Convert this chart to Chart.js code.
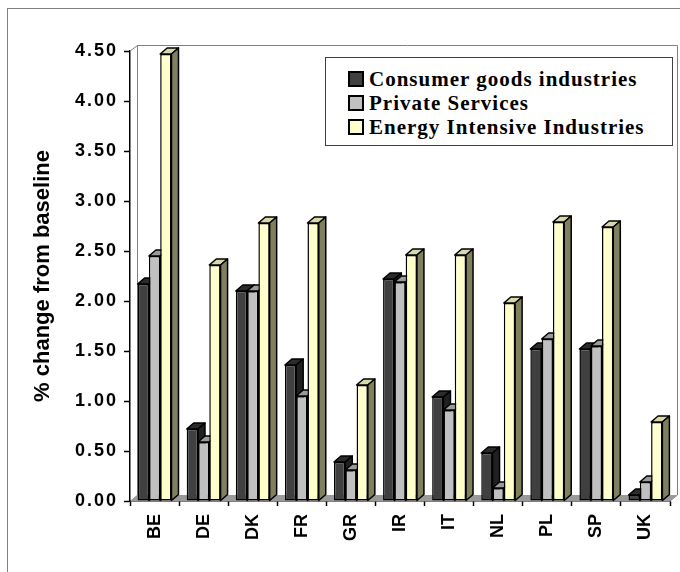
<!DOCTYPE html>
<html>
<head>
<meta charset="utf-8">
<script src="https://cdn.jsdelivr.net/npm/chart.js@4/dist/chart.umd.min.js"></script>
<style>
  html, body { margin: 0; padding: 0; background: #fff; }
  #wrap { position: relative; width: 680px; height: 572px; }
  #legend {
    position: absolute; left: 325px; top: 57px; width: 348px; height: 89px;
    border: 1px solid #404040; background: #fff; box-sizing: border-box;
    padding: 9px 0 0 22px;
    font: bold 21px 'Liberation Serif', 'Times New Roman', serif; letter-spacing: 1px;
  }
  #legend div { height: 24px; line-height: 24px; white-space: nowrap; }
  #legend span.sw {
    display: inline-block; width: 12px; height: 12px; border: 2px solid #000;
    margin-right: 5px; vertical-align: -1px;
  }
</style>
</head>
<body>
<div id="wrap">
  <canvas id="chart" width="680" height="572"></canvas>
  <div id="legend"></div>
</div>
<script>
var categories = ['BE', 'DE', 'DK', 'FR', 'GR', 'IR', 'IT', 'NL', 'PL', 'SP', 'UK'];
var seriesNames = ['Consumer goods industries', 'Private Services', 'Energy Intensive Industries'];
var consumerGoods   = [2.17, 0.72, 2.10, 1.36, 0.39, 2.22, 1.04, 0.48, 1.52, 1.52, 0.06];
var privateServices = [2.45, 0.59, 2.10, 1.05, 0.31, 2.19, 0.91, 0.13, 1.62, 1.55, 0.19];
var energyIntensive = [4.47, 2.36, 2.78, 2.78, 1.16, 2.46, 2.46, 1.98, 2.79, 2.74, 0.79];

var frontColors = ['#404040', '#c0c0c0', '#ffffcc'];
var topColors   = ['#2b2b2b', '#9a9a9a', '#d8d8a8'];
var sideColors  = ['#202020', '#8a8a8a', '#808060'];

// depth of the fake 3d box, in pixels
var DX = 7, DY = 6;

var box3d = {
    id: 'box3d',
    beforeDraw: function(chart) {
        var ctx = chart.ctx;
        ctx.save();
        ctx.strokeStyle = '#808080';
        ctx.lineWidth = 1;
        ctx.strokeRect(7.5, 8.5, 700, 600);
        ctx.restore();
    },
    afterLayout: function(chart) {
        // spaced-out digits on the value axis
        var y = chart.scales.y;
        if (!y._spaced) {
            var orig = y.drawLabels;
            y.drawLabels = function(area) {
                chart.ctx.save();
                chart.ctx.letterSpacing = '2px';
                orig.call(this, area);
                chart.ctx.restore();
            };
            y._spaced = true;
        }
    },
    beforeDatasetsDraw: function(chart) {
        var ctx = chart.ctx;
        var a = chart.chartArea;
        ctx.save();

        // floor
        ctx.fillStyle = '#9a9a9a';
        ctx.beginPath();
        ctx.moveTo(a.left, a.bottom);
        ctx.lineTo(a.left + DX, a.bottom - DY);
        ctx.lineTo(a.right + DX, a.bottom - DY);
        ctx.lineTo(a.right, a.bottom);
        ctx.closePath();
        ctx.fill();

        // back wall edges
        ctx.strokeStyle = '#808080';
        ctx.lineWidth = 1;
        ctx.beginPath();
        ctx.moveTo(a.left, a.top);
        ctx.lineTo(a.left + DX + 0.5, a.top - DY + 0.5);
        ctx.lineTo(a.right + DX + 0.5, a.top - DY + 0.5);
        ctx.lineTo(a.right + DX + 0.5, a.bottom - DY);
        ctx.lineTo(a.right, a.bottom);
        ctx.moveTo(a.left + DX + 0.5, a.top - DY + 0.5);
        ctx.lineTo(a.left + DX + 0.5, a.bottom - DY);
        ctx.stroke();

        // top and side faces, left series first so the next front covers them
        ctx.strokeStyle = '#000';
        ctx.lineWidth = 1.5;
        ctx.lineJoin = 'round';
        chart.data.datasets.forEach(function(ds, i) {
            chart.getDatasetMeta(i).data.forEach(function(bar) {
                var p = bar.getProps(['x', 'y', 'base', 'width'], true);
                var l = p.x - p.width / 2, r = p.x + p.width / 2;
                ctx.fillStyle = topColors[i];
                ctx.beginPath();
                ctx.moveTo(l, p.y);
                ctx.lineTo(l + DX, p.y - DY);
                ctx.lineTo(r + DX, p.y - DY);
                ctx.lineTo(r, p.y);
                ctx.closePath();
                ctx.fill();
                ctx.stroke();

                ctx.fillStyle = sideColors[i];
                ctx.beginPath();
                ctx.moveTo(r, p.y);
                ctx.lineTo(r + DX, p.y - DY);
                ctx.lineTo(r + DX, p.base - DY);
                ctx.lineTo(r, p.base);
                ctx.closePath();
                ctx.fill();
                ctx.stroke();
            });
        });
        ctx.restore();
    }
};

Chart.defaults.font.family = "'Liberation Sans', Arial, sans-serif";
Chart.defaults.color = '#000';

var values = [consumerGoods, privateServices, energyIntensive];
var datasets = values.map(function(v, i) {
    return {
        label: seriesNames[i],
        data: v,
        backgroundColor: frontColors[i],
        borderColor: '#000',
        borderWidth: 1.5,
        borderSkipped: false,
        barPercentage: 1,
        categoryPercentage: 0.69
    };
});

var chart = new Chart(document.getElementById('chart'), {
    type: 'bar',
    data: { labels: categories, datasets: datasets },
    options: {
        responsive: false,
        animation: false,
        layout: { padding: { top: 51, right: 10, left: 0, bottom: 0 } },
        plugins: {
            legend: { display: false },
            tooltip: { enabled: false }
        },
        scales: {
            x: {
                afterFit: function(s) { s.height = 71; },
                grid: { offset: true, drawOnChartArea: false, tickLength: 5, tickColor: '#000', tickWidth: 1.5 },
                border: { color: '#000', width: 1.5 },
                ticks: { autoSkip: false, minRotation: 90, maxRotation: 90, padding: 8,
                         font: { size: 18, weight: 'bold' } }
            },
            y: {
                min: 0,
                max: 4.5,
                afterFit: function(s) { s.width = 130; },
                grid: { drawOnChartArea: false, tickLength: 6, tickColor: '#000', tickWidth: 1.5 },
                border: { color: '#000', width: 1.5 },
                ticks: {
                    stepSize: 0.5,
                    padding: 6,
                    font: { size: 18, weight: 'bold' },
                    callback: function(v) { return v.toFixed(2); }
                },
                title: {
                    display: true,
                    text: '% change from baseline',
                    font: { size: 22, weight: 'bold' },
                    padding: { top: 30, bottom: 0 }
                }
            }
        }
    },
    plugins: [box3d]
});

// legend built from the same series
var legend = document.getElementById('legend');
seriesNames.forEach(function(name, i) {
    var row = document.createElement('div');
    var sw = document.createElement('span');
    sw.className = 'sw';
    sw.style.background = frontColors[i];
    row.appendChild(sw);
    row.appendChild(document.createTextNode(name));
    legend.appendChild(row);
});
</script>
</body>
</html>
